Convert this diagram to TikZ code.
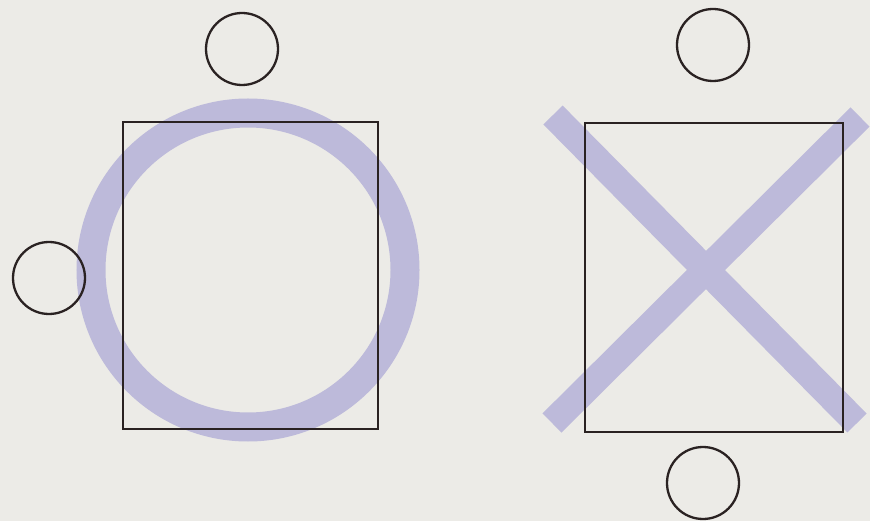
\documentclass[tikz,border=0pt]{standalone}
\begin{document}
\begin{tikzpicture}[x=1pt,y=-1pt,
  seat/.style={draw=ink,line width=2.3pt,circle,minimum size=72pt,inner sep=0pt},
  tablebox/.style={draw=ink,line width=2.3pt,rectangle,inner sep=0pt},
  lavmark/.style={draw=lav,line width=27pt}]
\definecolor{ink}{HTML}{2A2222}
\definecolor{lav}{HTML}{BDBADA}
\definecolor{bg}{HTML}{ECEBE7}
\fill[bg] (0,0) rectangle (870,521);
\useasboundingbox (0,0) rectangle (870,521);
% left group
\draw[lavmark,line width=29pt] (248,270) circle[radius=157];
\node[tablebox,minimum width=255pt,minimum height=307pt] (t1) at (250.5,275.5) {};
\node[seat] (s1) at (242,49) {};
\node[seat] (s2) at (49,278) {};
% right group
\draw[lavmark] (553,115) -- (857,423);
\draw[lavmark] (860,117) -- (552,423);
\node[tablebox,minimum width=258pt,minimum height=309pt] (t2) at (714,277.5) {};
\node[seat] (s3) at (713,45) {};
\node[seat] (s4) at (703,483) {};
\end{tikzpicture}
\end{document}
